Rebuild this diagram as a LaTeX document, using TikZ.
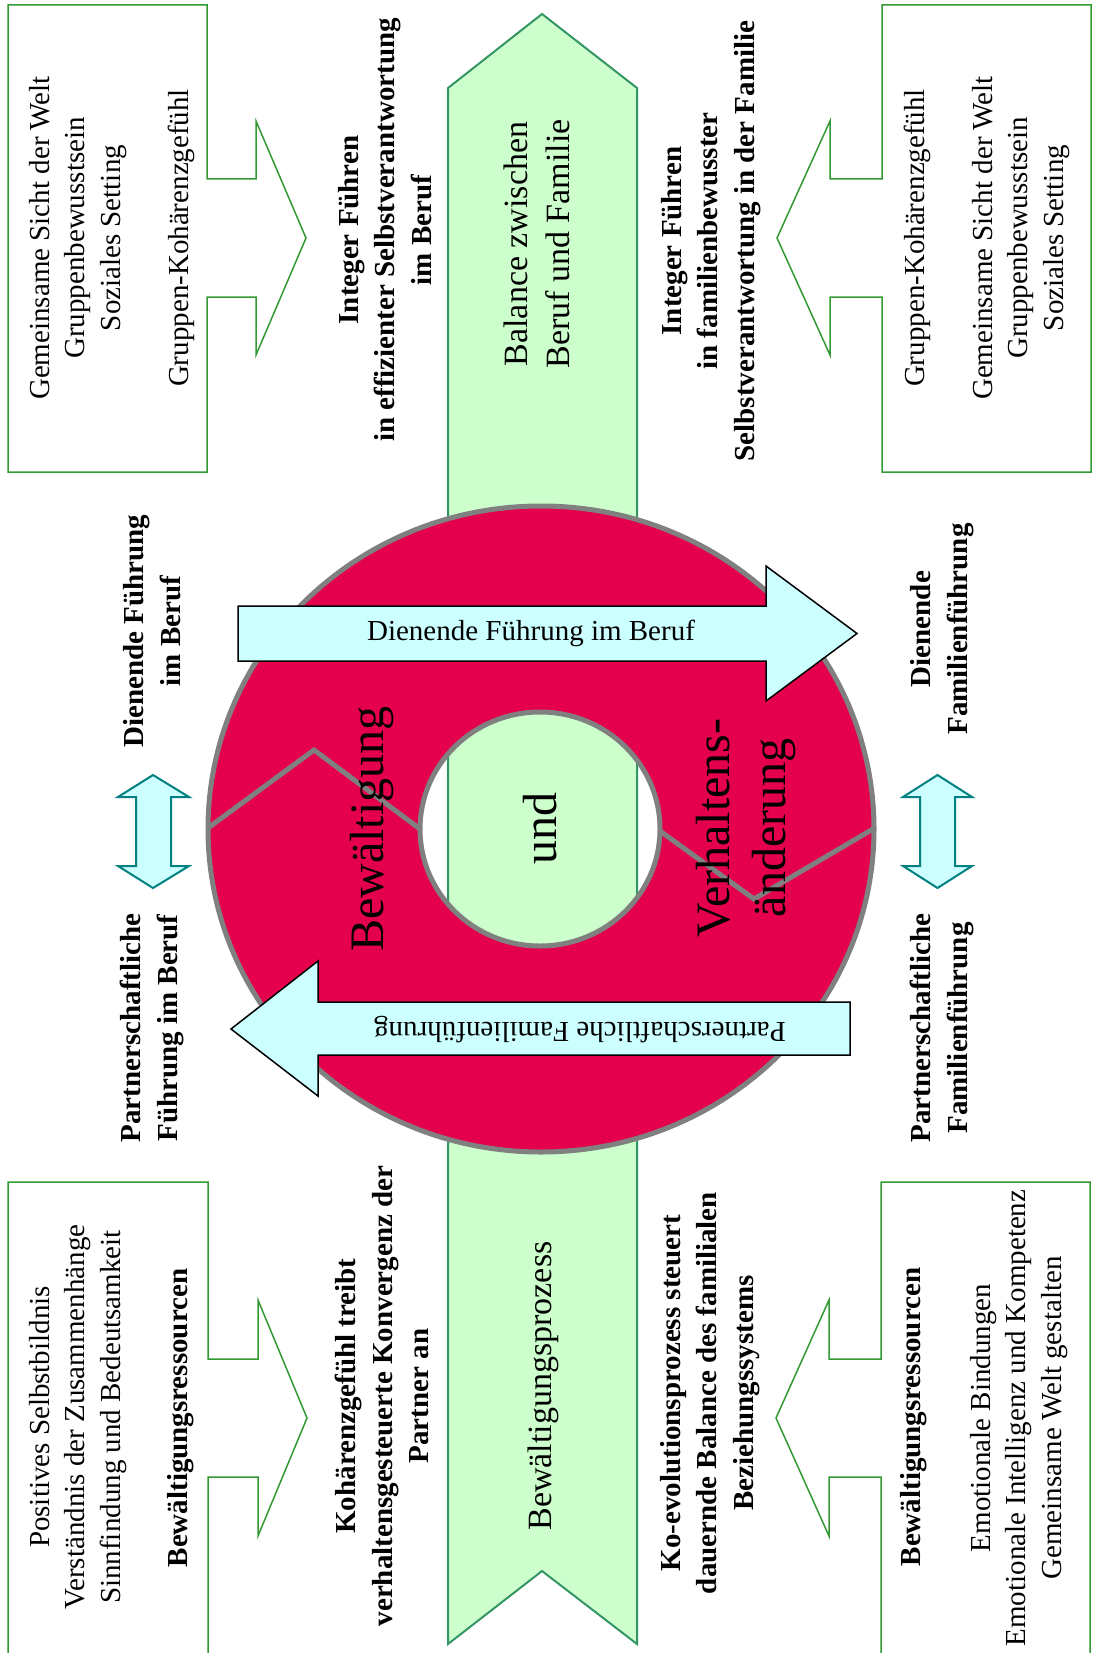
\documentclass[tikz,border=0pt]{standalone}
\usepackage{fontspec}
\setmainfont{Liberation Serif}
\definecolor{boxgreen}{RGB}{51,153,51}
\definecolor{bargreen}{RGB}{204,255,204}
\definecolor{barline}{RGB}{51,150,100}
\definecolor{ringred}{RGB}{228,0,76}
\definecolor{ringgray}{RGB}{128,128,128}
\definecolor{cyanfill}{RGB}{204,255,255}
\definecolor{tealline}{RGB}{0,128,128}
\tikzset{
  callout/.style={draw=boxgreen, line width=1.5pt, fill=white, line join=miter},
  bar/.style={draw=barline, line width=2pt, fill=bargreen},
  cyanarrow/.style={draw=black, line width=1.5pt, fill=cyanfill},
  dblarrow/.style={draw=tealline, line width=2pt, fill=cyanfill},
  ringline/.style={draw=ringgray, line width=5pt},
  txt/.style={font=\fontsize{29}{35.5}\selectfont, align=center, inner sep=0pt},
  btxt/.style={font=\fontsize{29}{36.5}\selectfont\bfseries, align=center, inner sep=0pt},
  bigtxt/.style={font=\fontsize{34}{42}\selectfont, align=center, inner sep=0pt},
  ringtxt/.style={font=\fontsize{48}{56}\selectfont, align=center, inner sep=0pt}
}
\begin{document}
\begin{tikzpicture}[x=1pt,y=-1pt]
\useasboundingbox (0,0) rectangle (1093,1653);
% green vertical bar
\draw[bar] (542,14) -- (637,88) -- (637,1644) -- (542,1571) -- (448,1644) -- (448,88) -- cycle;
% callouts
\draw[callout] (8,5) -- (207,5) -- (207,179) -- (256,179) -- (256,121) -- (306,238) -- (256,355) -- (256,297) -- (207,297) -- (207,472) -- (8,472) -- cycle;
\draw[callout] (1091,5) -- (882,5) -- (882,179) -- (830,179) -- (830,121) -- (777,238) -- (830,355) -- (830,297) -- (882,297) -- (882,472) -- (1091,472) -- cycle;
\draw[callout] (8,1658) -- (8,1182) -- (208,1182) -- (208,1359) -- (258,1359) -- (258,1300) -- (307,1418) -- (258,1536) -- (258,1477) -- (208,1477) -- (208,1658) -- cycle;
\draw[callout] (1090,1658) -- (1090,1182) -- (881,1182) -- (881,1359) -- (829,1359) -- (829,1300) -- (776,1418) -- (829,1536) -- (829,1477) -- (881,1477) -- (881,1658) -- cycle;
% ring
\draw[ringline, fill=ringred, even odd rule] (541,829) ellipse [x radius=333, y radius=323] (540,829) ellipse [x radius=120, y radius=117];
\draw[ringline] (208,828) -- (314,750) -- (420,829);
\draw[ringline] (660,831) -- (754,899) -- (873,829);
% cyan arrows
\draw[cyanarrow] (238,606) -- (766,606) -- (766,566) -- (857,633.5) -- (766,701) -- (766,661) -- (238,661) -- cycle;
\draw[cyanarrow] (850,1002) -- (318,1002) -- (318,961) -- (231,1029) -- (318,1096) -- (318,1055) -- (850,1055) -- cycle;
% double arrows
\draw[dblarrow] (153,775) -- (189,797) -- (171,797) -- (171,866) -- (189,866) -- (153,888) -- (118,866) -- (136,866) -- (136,797) -- (118,797) -- cycle;
\draw[dblarrow] (937.5,775) -- (972,797) -- (955,797) -- (955,866) -- (972,866) -- (937.5,888) -- (903,866) -- (920,866) -- (920,797) -- (903,797) -- cycle;
% texts top
\node[txt, rotate=90] (tlA) at (78,238) {Gemeinsame Sicht der Welt\\Gruppenbewusstsein\\Soziales Setting};
\node[txt, rotate=90] (tlB) at (181,238) {Gruppen-Kohärenzgefühl};
\node[btxt, rotate=90] (tc1) at (385,230) {Integer Führen\\in effizienter Selbstverantwortung\\im Beruf};
\node[bigtxt, rotate=90] (bal) at (537,244) {Balance zwischen\\Beruf und Familie};
\node[btxt, rotate=90] (tc2) at (711,241) {Integer Führen\\in familienbewusster\\Selbstverantwortung in der Familie};
\node[txt, rotate=90] (trB) at (917,238) {Gruppen-Kohärenzgefühl};
\node[txt, rotate=90] (trA) at (1021,238) {Gemeinsame Sicht der Welt\\Gruppenbewusstsein\\Soziales Setting};
% side labels
\node[btxt, rotate=90] (dl) at (152,631) {Dienende Führung\\im Beruf};
\node[btxt, rotate=90] (pl) at (152,1028) {Partnerschaftliche\\Führung im Beruf};
\node[btxt, rotate=90] (dr) at (942,629) {Dienende\\Familienführung};
\node[btxt, rotate=90] (pr) at (942,1028) {Partnerschaftliche\\Familienführung};
% ring texts
\node[ringtxt, rotate=90] (bew) at (372,829) {Bewältigung};
\node[ringtxt, rotate=90] (und) at (540,828) {und};
\node[ringtxt, rotate=90] (verh) at (746,828) {Verhaltens-\\änderung};
% arrow texts
\node[txt] (dfb) at (531,633) {Dienende Führung im Beruf};
\node[txt, rotate=180] (pff) at (580,1030) {Partnerschaftliche Familienführung};
% texts bottom
\node[txt, rotate=90] (blA) at (78,1417) {Positives Selbstbildnis\\Verständnis der Zusammenhänge\\Sinnfindung und Bedeutsamkeit};
\node[btxt, rotate=90] (blB) at (181,1418) {Bewältigungsressourcen};
\node[btxt, rotate=90] (bc1) at (382,1396) {Kohärenzgefühl treibt\\verhaltensgesteuerte Konvergenz der\\Partner an};
\node[bigtxt, rotate=90] (bwp) at (543,1386) {Bewältigungsprozess};
\node[btxt, rotate=90] (bc2) at (710,1393) {Ko-evolutionsprozess steuert\\dauernde Balance des familialen\\Beziehungssystems};
\node[btxt, rotate=90] (brB) at (914,1417) {Bewältigungsressourcen};
\node[txt, rotate=90] (brA) at (1019,1418) {Emotionale Bindungen\\Emotionale Intelligenz und Kompetenz\\Gemeinsame Welt gestalten};
\end{tikzpicture}
\end{document}
